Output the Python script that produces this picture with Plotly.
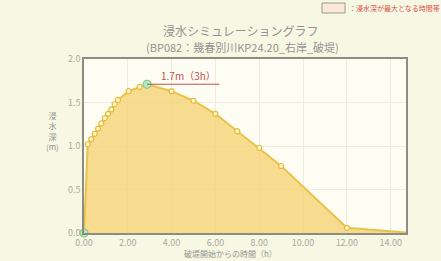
import plotly.graph_objects as go

# data (hours after breach, inundation depth m)
hours = [0.0, 0.17, 0.33, 0.49, 0.64, 0.79, 0.95, 1.10, 1.25, 1.40, 1.55, 2.04, 2.54, 2.88,
         4.0, 5.0, 6.0, 7.0, 8.0, 9.0, 12.0, 15.0]
depth = [0.0, 1.02, 1.08, 1.14, 1.20, 1.26, 1.32, 1.37, 1.42, 1.48, 1.53, 1.63, 1.68, 1.71,
         1.63, 1.52, 1.37, 1.17, 0.98, 0.77, 0.06, 0.0]
peak_h = 2.88
peak_d = 1.71
peak_label = "1.7m（3h）"
x_ticks = [0, 2, 4, 6, 8, 10, 12, 14]
x_tick_labels = ["0.00", "2.00", "4.00", "6.00", "8.00", "10.00", "12.00", "14.00"]
y_ticks = [0.0, 0.5, 1.0, 1.5, 2.0]
y_tick_labels = ["0.0", "0.5", "1.0", "1.5", "2.0"]

JP = "Noto Sans CJK JP"
TXT = "#939390"

fig = go.Figure()
fig.add_trace(go.Scatter(
    x=hours, y=depth, mode="lines+markers", fill="tozeroy",
    fillcolor="rgba(246,214,125,0.85)",
    line=dict(color="#e9c34c", width=2),
    marker=dict(size=5, color="#fff6cf", line=dict(color="#e3bb3a", width=1.2)),
    cliponaxis=True, hoverinfo="skip", showlegend=False))
# highlighted points (start and maximum)
fig.add_trace(go.Scatter(
    x=[hours[0], peak_h], y=[depth[0], peak_d], mode="markers",
    marker=dict(size=8, color="#b9e6c0", line=dict(color="#7ccf8d", width=1.2)),
    cliponaxis=False, hoverinfo="skip", showlegend=False))

fig.add_shape(type="line", xref="x", yref="y", x0=peak_h, x1=peak_h + 3.3,
              y0=peak_d, y1=peak_d, line=dict(color="#c0504d", width=1))
fig.add_annotation(x=peak_h + 0.55, y=peak_d, xref="x", yref="y", text=peak_label,
                   showarrow=False, xanchor="left", yanchor="bottom", yshift=-1,
                   font=dict(family=JP, size=10, color="#c0504d"))

W, H = 441, 261
L, R, T, B = 84, 35, 59, 28
pw, ph = W - L - R, H - T - B
def px(x, y):
    return (x - L) / pw, (H - B - y) / ph

def text_at(x, y, text, size, color=TXT, xanchor="center"):
    tx, ty = px(x, y)
    fig.add_annotation(x=tx, y=ty, xref="paper", yref="paper", text=text,
                       showarrow=False, xanchor=xanchor, yanchor="middle",
                       font=dict(family=JP, size=size, color=color))

text_at(241, 31, "浸水シミュレーショングラフ", 12)
text_at(242, 47, "(BP082：幾春別川KP24.20_右岸_破堤)", 11)
text_at(52, 131, "浸<br>水<br>深<br>(m)", 8)
text_at(230, 254, "破堤開始からの時間（h）", 8)
text_at(347, 8, "：浸水深が最大となる時間帯", 7, color="#d9534f", xanchor="left")

x0, y0 = px(322, 3)
x1, y1 = px(345, 13)
fig.add_shape(type="rect", xref="paper", yref="paper", x0=x0, x1=x1, y0=y0, y1=y1,
              fillcolor="#fde7d8", line=dict(color="#9a9a90", width=1))

axis_common = dict(showgrid=True, gridcolor="#ececdf", gridwidth=1,
                   showline=True, linecolor="#8c8c80", linewidth=1.5, mirror=True,
                   zeroline=False, ticks="", tickfont=dict(size=9, color="#aaaaa0"))
fig.update_layout(
    width=W, height=H,
    margin=dict(l=L, r=R, t=T, b=B),
    paper_bgcolor="#f7f8e4", plot_bgcolor="#fdfdf3",
    font=dict(family=JP, color=TXT),
    xaxis=dict(range=[0, 14.7], tickvals=x_ticks, ticktext=x_tick_labels, **axis_common),
    yaxis=dict(range=[0, 2.0], tickvals=y_ticks, ticktext=y_tick_labels, **axis_common),
)

fig.write_html("out.html", config={"displayModeBar": False},
               post_script="document.body.style.margin='0';")
